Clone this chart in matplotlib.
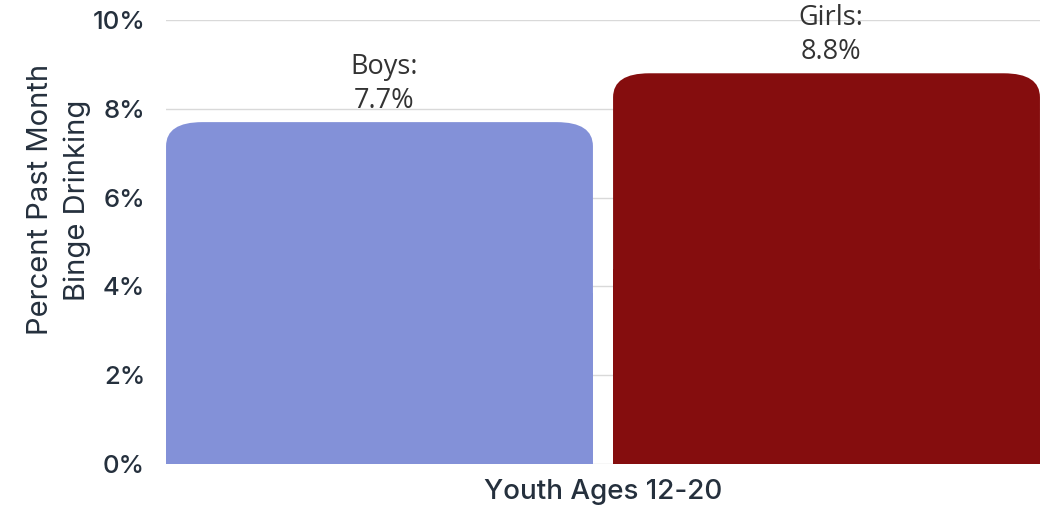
import matplotlib
matplotlib.use("Agg")
import matplotlib.pyplot as plt
from matplotlib.patches import FancyBboxPatch, Rectangle
from matplotlib.ticker import FuncFormatter

groups = ["Boys", "Girls"]
values = [7.7, 8.8]
colors = ["#8391d8", "#850d0e"]
yticks = [0, 2, 4, 6, 8, 10]

fig = plt.figure(figsize=(10.42, 5.08), dpi=100)
ax = fig.add_axes([166 / 1042, 44 / 508, 874 / 1042, 444 / 508])

x = [0, 1]
width = 0.955
bars = ax.bar(x, values, width=width, color=colors)

ax.set_xlim(-0.4776, 1.4776)
ax.set_ylim(0, 10)

# rounded top corners: replace each rectangle with a rounded box
px_x = 874 / (1.4776 * 2)
px_y = 444 / 10
radius_px = 24
r = radius_px / px_x
aspect = px_x / px_y
for b in bars:
    x0, y0 = b.get_x(), b.get_y()
    w, h = b.get_width(), b.get_height()
    fc = b.get_facecolor()
    b.set_visible(False)
    ax.add_patch(FancyBboxPatch((x0, y0), w, h,
                                boxstyle=f"round,pad=0,rounding_size={r}",
                                mutation_aspect=aspect, fc=fc, ec="none", zorder=2))
    ax.add_patch(Rectangle((x0, y0), w, h / 2, fc=fc, ec="none", zorder=2))

for xi, g, v in zip(x, groups, values):
    ax.text(xi + 0.01, v + 0.17, f"{g}:\n{v}%", ha="center", va="bottom",
            fontsize=19.5, color="#333333", family="Open Sans", linespacing=1.25, zorder=3)

ax.set_yticks(yticks)
ax.yaxis.set_major_formatter(FuncFormatter(lambda v, p: f"{v:.0f}%"))
ax.set_xticks([])
ax.grid(axis="y", color="#d9d9d9", linewidth=1)
ax.set_axisbelow(True)
for s in ax.spines.values():
    s.set_visible(False)
ax.tick_params(axis="y", length=0, pad=15, labelsize=18.5, labelcolor="#25303d")
for lab in ax.get_yticklabels():
    lab.set_family("Inter")
    lab.set_fontweight("medium")

ax.set_xlabel("Youth Ages 12-20", fontsize=20, color="#25303d", family="Inter",
              fontweight="medium", labelpad=11)
ax.set_ylabel("Percent Past Month\nBinge Drinking", fontsize=21, color="#25303d",
              family="Inter", linespacing=1.45)
ax.yaxis.set_label_coords(-0.086, 0.595)

fig.savefig("out.png", dpi=100)
